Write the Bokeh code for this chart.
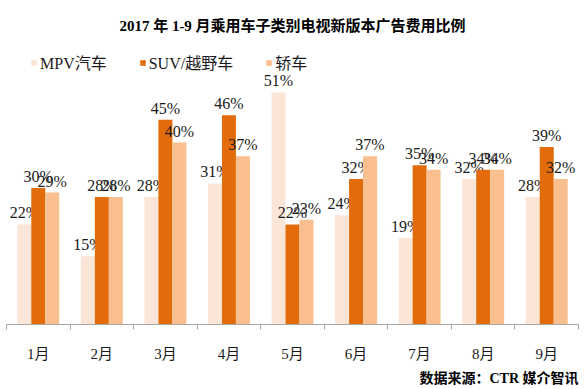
from bokeh.plotting import figure
from bokeh.models import (ColumnDataSource, FactorRange, Range1d, LinearAxis, CategoricalAxis,
                          FixedTicker, Legend, LegendItem, Label, Title)
from bokeh.transform import dodge
from bokeh.core.properties import value
from bokeh.embed import file_html
from bokeh.resources import INLINE

title_text = "2017 年 1-9 月乘用车子类别电视新版本广告费用比例"
source_text = "数据来源：CTR 媒介智讯"
months = ["1月", "2月", "3月", "4月", "5月", "6月", "7月", "8月", "9月"]
series_names = ["MPV汽车", "SUV/越野车", "轿车"]
mpv = [22, 15, 28, 31, 51, 24, 19, 32, 28]
suv = [30, 28, 45, 46, 22, 32, 35, 34, 39]
sedan = [29, 28, 40, 37, 23, 37, 34, 34, 32]
colors = ["#FBE5D6", "#E36C0A", "#F9BF8F"]

FONT = "Liberation Serif, Noto Sans CJK SC"
FRAME_W = 572
FRAME_H = 324

src = ColumnDataSource(dict(
    months=months,
    mpv=mpv, suv=suv, sedan=sedan,
    mpv_lbl=[f"{v}%" for v in mpv],
    suv_lbl=[f"{v}%" for v in suv],
    sedan_lbl=[f"{v}%" for v in sedan],
))

p = figure(x_range=FactorRange(factors=months, range_padding=0), y_range=Range1d(0, FRAME_H / 4.55),
           frame_width=FRAME_W, frame_height=FRAME_H, output_backend="svg", toolbar_location=None,
           x_axis_location=None, y_axis_location=None,
           min_border_left=6, min_border_right=6, min_border_top=0, min_border_bottom=0,
           outline_line_color=None, background_fill_color="white", border_fill_color="white")
p.grid.visible = False

# chart title (inside the top of the frame)
p.add_layout(Label(x=FRAME_W / 2, y=FRAME_H - 25, x_units="screen", y_units="screen", text=title_text,
                   text_align="center", text_baseline="middle", text_font=FONT,
                   text_font_size="15px", text_font_style="bold", text_color="#000000"))

w = 0.22
offsets = [-w, 0, w]
keys = ["mpv", "suv", "sedan"]
items = []
for k, off, col, name in zip(keys, offsets, colors, series_names):
    r = p.vbar(x=dodge("months", off, range=p.x_range), top=k, width=w, source=src,
               fill_color=col, line_color=None)
    p.text(x=dodge("months", off, range=p.x_range), y=k, text=k + "_lbl", source=src,
           text_align="center", text_baseline="bottom", y_offset=-3,
           text_font=value(FONT), text_font_size="16px", text_color="#1a1a1a")
    items.append(LegendItem(label=name, renderers=[r]))

legend = Legend(items=items, orientation="horizontal", location=(24, FRAME_H - 74),
                glyph_width=7, glyph_height=7, label_standoff=3, spacing=32,
                padding=0, margin=0, border_line_color=None, background_fill_alpha=0,
                label_text_font=FONT, label_text_font_size="16px", label_height=18,
                label_text_color="#1a1a1a")
p.add_layout(legend)

# boundary ticks between categories (synthetic coordinates 0..n)
n_ticks = len(months) + 1
tick_axis = LinearAxis(ticker=FixedTicker(ticks=list(range(n_ticks))),
                       major_label_overrides={i: "" for i in range(n_ticks)},
                       major_label_text_font_size="1px", minor_tick_line_color=None,
                       axis_line_color="#A6A6A6", major_tick_line_color="#A6A6A6",
                       major_tick_out=5, major_tick_in=0, major_label_standoff=0)
p.add_layout(tick_axis, "below")

cat_axis = CategoricalAxis(axis_line_color=None, major_tick_line_color=None,
                           major_tick_out=0, major_tick_in=0,
                           major_label_text_font=FONT, major_label_text_font_size="15px",
                           major_label_text_color="#1a1a1a", major_label_standoff=16)
p.add_layout(cat_axis, "below")

p.add_layout(Title(text=source_text, align="right", text_font=FONT, text_font_size="14px",
                   text_font_style="bold", text_color="#000000", standoff=8), "below")

open("out.html", "w").write(file_html(p, INLINE))
